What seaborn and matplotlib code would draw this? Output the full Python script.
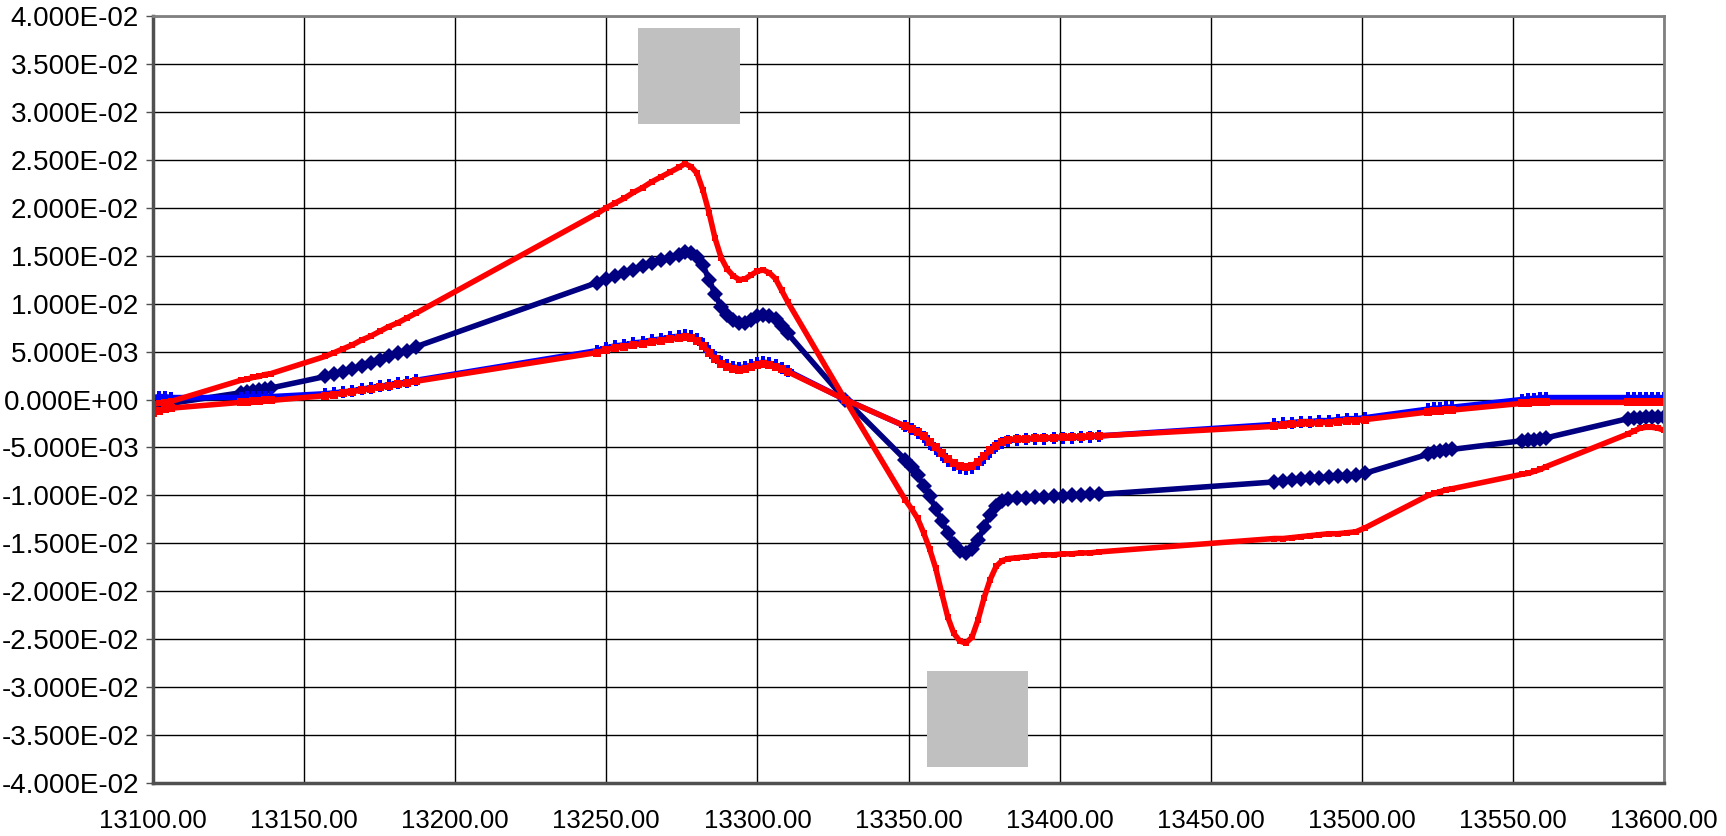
import matplotlib
matplotlib.use("Agg")
import matplotlib.pyplot as plt
from matplotlib.patches import Rectangle
from matplotlib.ticker import FuncFormatter
import seaborn as sns
import pandas as pd

# ---------------- data ----------------
field = [13100, 13102, 13104, 13106,
         13129, 13131, 13133, 13135, 13137, 13139,
         13157, 13160, 13163, 13166, 13169, 13172, 13175, 13178, 13181, 13184, 13187,
         13247, 13250, 13253, 13256, 13259, 13262, 13265, 13268, 13271, 13274, 13276,
         13278, 13280, 13282, 13284, 13286, 13288, 13290, 13292, 13294, 13296, 13298,
         13300, 13302, 13304, 13306, 13308, 13310,
         13329,
         13349, 13351, 13353, 13355, 13357, 13359, 13361, 13363, 13365, 13367, 13369,
         13371, 13373, 13375, 13377, 13379, 13381, 13383, 13386, 13389, 13392, 13395,
         13398, 13401, 13404, 13407, 13410, 13413,
         13471, 13474, 13477, 13480, 13483, 13486, 13489, 13492, 13495, 13498, 13501,
         13522, 13524, 13526, 13528, 13530,
         13553, 13555, 13557, 13559, 13561,
         13588, 13590, 13592, 13594, 13596, 13598, 13600]

navy_series = [-0.0008, -0.0007, -0.0005, -0.0004,
               0.0007, 0.0008, 0.0009, 0.0010, 0.0011, 0.0012,
               0.0024, 0.0027, 0.0029, 0.0032, 0.0035, 0.0038, 0.0041, 0.0045, 0.0048, 0.0051, 0.0055,
               0.0122, 0.0126, 0.0129, 0.0132, 0.0135, 0.0139, 0.0142, 0.0145, 0.0148, 0.0151, 0.0154,
               0.0153, 0.0149, 0.0140, 0.0125, 0.0110, 0.0096, 0.0088, 0.0083, 0.0080, 0.0080, 0.0083,
               0.0087, 0.0088, 0.0087, 0.0084, 0.0077, 0.0069,
               0.0,
               -0.0063, -0.0070, -0.0079, -0.0090, -0.0101, -0.0114, -0.0127, -0.0139, -0.0151, -0.0158, -0.0160,
               -0.0156, -0.0147, -0.0133, -0.0120, -0.0111, -0.0106, -0.0104, -0.0103, -0.0103, -0.0102, -0.0102,
               -0.0101, -0.0101, -0.0100, -0.0100, -0.0099, -0.0099,
               -0.0086, -0.0085, -0.0084, -0.0083, -0.0082, -0.0082, -0.0081, -0.0080, -0.0080, -0.0079, -0.0077,
               -0.0057, -0.0055, -0.0054, -0.0053, -0.0052,
               -0.0043, -0.0042, -0.0042, -0.0041, -0.0040,
               -0.0020, -0.0019, -0.0019, -0.0018, -0.0018, -0.0018, -0.0018]

blue_series = [0.0002, 0.0003, 0.0003, 0.0002,
               0.0002, 0.0003, 0.0003, 0.0003, 0.0003, 0.0003,
               0.0006, 0.0007, 0.0008, 0.0009, 0.0011, 0.0012, 0.0014, 0.0015, 0.0017, 0.0018, 0.0020,
               0.0051, 0.0054, 0.0056, 0.0057, 0.0059, 0.0060, 0.0062, 0.0063, 0.0065, 0.0066, 0.0067,
               0.0066, 0.0063, 0.0058, 0.0051, 0.0044, 0.0039, 0.0036, 0.0034, 0.0033, 0.0034, 0.0036,
               0.0038, 0.0039, 0.0038, 0.0036, 0.0033, 0.0030,
               0.0,
               -0.0028, -0.0031, -0.0035, -0.0039, -0.0046, -0.0052, -0.0058, -0.0064, -0.0068, -0.0071, -0.0072,
               -0.0071, -0.0067, -0.0061, -0.0055, -0.0049, -0.0045, -0.0043, -0.0042, -0.0041, -0.0041, -0.0041,
               -0.0040, -0.0040, -0.0040, -0.0039, -0.0039, -0.0038,
               -0.0026, -0.0025, -0.0024, -0.0023, -0.0023, -0.0022, -0.0022, -0.0021, -0.0020, -0.0020, -0.0019,
               -0.0010, -0.0009, -0.0009, -0.0008, -0.0008,
               0.0000, 0.0001, 0.0001, 0.0002, 0.0002,
               0.0002, 0.0002, 0.0002, 0.0002, 0.0002, 0.0002, 0.0002]

red_inner_series = [-0.0014, -0.0012, -0.0010, -0.0009,
                    -0.0003, -0.0003, -0.0002, -0.0002, -0.0001, -0.0001,
                    0.0004, 0.0005, 0.0007, 0.0008, 0.0010, 0.0011, 0.0013, 0.0014, 0.0016, 0.0017, 0.0019,
                    0.0049, 0.0052, 0.0054, 0.0055, 0.0057, 0.0058, 0.0060, 0.0061, 0.0063, 0.0064, 0.0065,
                    0.0064, 0.0061, 0.0056, 0.0049, 0.0042, 0.0037, 0.0034, 0.0032, 0.0031, 0.0032, 0.0034,
                    0.0036, 0.0037, 0.0036, 0.0034, 0.0032, 0.0029,
                    0.0,
                    -0.0028, -0.0031, -0.0034, -0.0038, -0.0044, -0.0050, -0.0056, -0.0062, -0.0066, -0.0069, -0.0070,
                    -0.0069, -0.0065, -0.0059, -0.0053, -0.0048, -0.0044, -0.0042, -0.0041, -0.0041, -0.0040, -0.0040,
                    -0.0040, -0.0039, -0.0039, -0.0039, -0.0038, -0.0038,
                    -0.0028, -0.0027, -0.0026, -0.0025, -0.0025, -0.0024, -0.0024, -0.0023, -0.0022, -0.0022, -0.0021,
                    -0.0013, -0.0012, -0.0012, -0.0011, -0.0011,
                    -0.0004, -0.0004, -0.0003, -0.0003, -0.0003,
                    -0.0003, -0.0003, -0.0003, -0.0003, -0.0003, -0.0003, -0.0003]

red_outer_series = [-0.0005, -0.0004, -0.0003, -0.0002,
                    0.0020, 0.0021, 0.0023, 0.0024, 0.0026, 0.0027,
                    0.0045, 0.0049, 0.0053, 0.0057, 0.0062, 0.0066, 0.0071, 0.0076, 0.0080, 0.0085, 0.0090,
                    0.0194, 0.0200, 0.0205, 0.0210, 0.0216, 0.0221, 0.0227, 0.0232, 0.0237, 0.0242, 0.0246,
                    0.0243, 0.0236, 0.0218, 0.0195, 0.0168, 0.0148, 0.0136, 0.0129, 0.0125, 0.0126, 0.0130,
                    0.0134, 0.0135, 0.0132, 0.0126, 0.0114, 0.0102,
                    0.0,
                    -0.0105, -0.0114, -0.0124, -0.0139, -0.0156, -0.0176, -0.0202, -0.0227, -0.0244, -0.0252, -0.0254,
                    -0.0248, -0.0230, -0.0207, -0.0188, -0.0174, -0.0168, -0.0166, -0.0165, -0.0164, -0.0163, -0.0162,
                    -0.0162, -0.0161, -0.0161, -0.0160, -0.0160, -0.0159,
                    -0.0145, -0.0145, -0.0144, -0.0143, -0.0142, -0.0141, -0.0140, -0.0140, -0.0139, -0.0138, -0.0134,
                    -0.0100, -0.0098, -0.0096, -0.0094, -0.0093,
                    -0.0078, -0.0077, -0.0075, -0.0073, -0.0070,
                    -0.0036, -0.0033, -0.0030, -0.0029, -0.0029, -0.0030, -0.0032]

x_ticks = [13100, 13150, 13200, 13250, 13300, 13350, 13400, 13450, 13500, 13550, 13600]
y_ticks = [-0.04, -0.035, -0.03, -0.025, -0.02, -0.015, -0.01, -0.005, 0.0,
           0.005, 0.01, 0.015, 0.02, 0.025, 0.03, 0.035, 0.04]

# ---------------- figure ----------------
sns.set_theme(style="white")
plt.rcParams['font.family'] = ['Liberation Sans', 'DejaVu Sans']
plt.rcParams['axes.unicode_minus'] = False

W, H = 1726, 836
fig = plt.figure(figsize=(W / 100, H / 100), dpi=100)
L, R, T, B = 153, 1664, 16, 783
ax = fig.add_axes([L / W, 1 - B / H, (R - L) / W, (B - T) / H])

df = pd.DataFrame({"field": field, "navy": navy_series, "blue": blue_series,
                   "red_inner": red_inner_series, "red_outer": red_outer_series})

common = dict(x="field", ax=ax, sort=False, estimator=None, legend=False)
sns.lineplot(data=df, y="navy", color="#000080", linewidth=4.0, marker="D",
             markersize=8, markeredgewidth=0, **common)
sns.lineplot(data=df, y="blue", color="#0000FF", linewidth=4.0, marker="P",
             markersize=9, markeredgewidth=0, **common)
sns.lineplot(data=df, y="red_inner", color="#FF0000", linewidth=4.0, marker="s",
             markersize=6, markeredgewidth=0, **common)
sns.lineplot(data=df, y="red_outer", color="#FF0000", linewidth=4.0, marker="s",
             markersize=5, markeredgewidth=0, **common)

ax.set_xlim(13100, 13600)
ax.set_ylim(-0.04, 0.04)
ax.set_xticks(x_ticks)
ax.set_yticks(y_ticks)
ax.xaxis.set_major_formatter(FuncFormatter(lambda v, p: f"{v:.2f}"))
ax.yaxis.set_major_formatter(FuncFormatter(lambda v, p: f"{v:.3E}"))
ax.set_xlabel("")
ax.set_ylabel("")

ax.grid(True, color="#000000", linewidth=1.0)
ax.set_axisbelow(True)
for side in ["top", "right"]:
    ax.spines[side].set_color("#808080")
    ax.spines[side].set_linewidth(2.0)
for side in ["left", "bottom"]:
    ax.spines[side].set_color("#505050")
    ax.spines[side].set_linewidth(2.5)

ax.tick_params(axis="y", which="major", direction="out", length=5, width=1,
               color="#505050", pad=5, labelsize=20, left=True)
ax.tick_params(axis="x", which="major", length=0, pad=19, labelsize=18.5)
for lab in ax.get_yticklabels() + ax.get_xticklabels():
    lab.set_color("#000000")

# grey placeholder boxes
for (x0, y0, x1, y1) in [(638, 28, 740, 124), (927, 671, 1028, 767)]:
    fig.add_artist(Rectangle((x0 / W, 1 - y1 / H), (x1 - x0) / W, (y1 - y0) / H,
                             transform=fig.transFigure, facecolor="#C0C0C0",
                             edgecolor="none", zorder=10))

fig.savefig("out.png", dpi=100)
